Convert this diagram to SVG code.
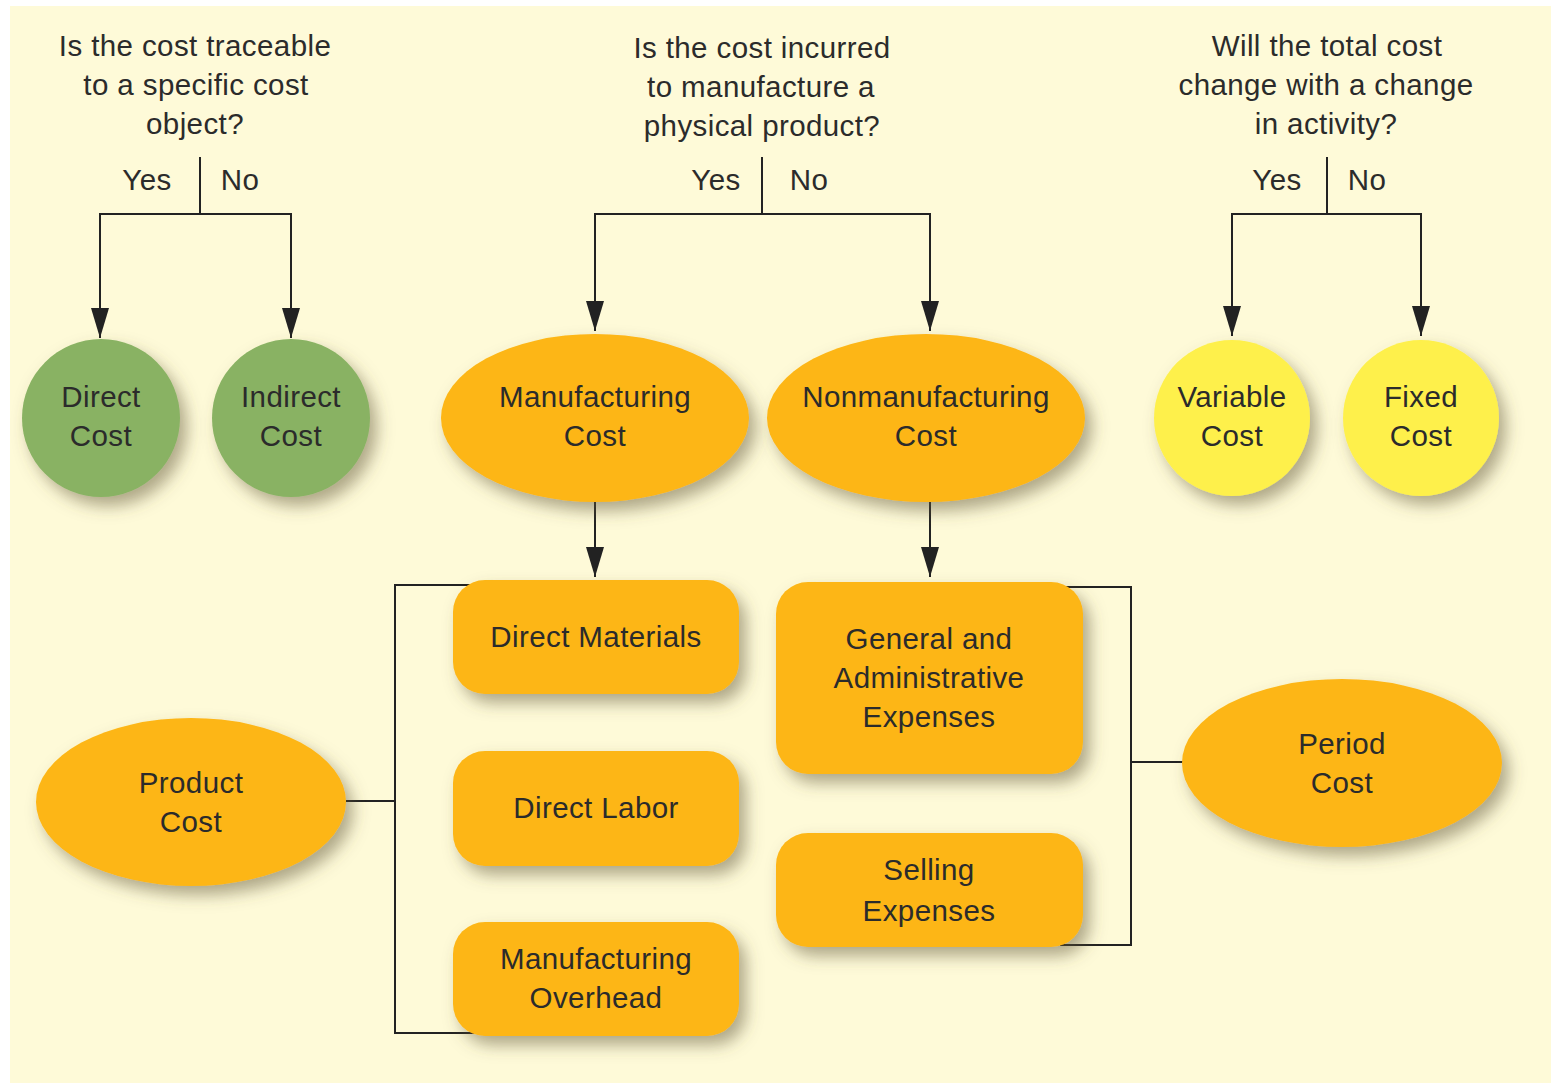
<svg xmlns="http://www.w3.org/2000/svg" width="1551" height="1086" viewBox="0 0 1551 1086">
<defs>
<style>
text{font-family:"Liberation Sans",Arial,sans-serif;font-size:29.5px;letter-spacing:0.4px;fill:#2b2b2b;text-anchor:middle}
.ln{fill:none;stroke:#222;stroke-width:2}
.green{fill:#89b263}
.orange{fill:#fdb616}
.yellow{fill:#fef04c}
</style>
<filter id="sh" x="-20%" y="-20%" width="150%" height="160%">
<feDropShadow dx="7" dy="9" stdDeviation="8" flood-color="#5e5636" flood-opacity="0.5"/>
</filter>
<marker id="ah" markerUnits="userSpaceOnUse" markerWidth="30" markerHeight="18" refX="30" refY="9" orient="auto">
<path d="M0,0 L30,9 L0,18 z" fill="#222"/>
</marker>
</defs>
<rect x="0" y="0" width="1551" height="1086" fill="#ffffff"/>
<rect x="10" y="6" width="1541" height="1077" fill="#fefad8"/>

<g id="questions">
<text x="195" y="56">Is the cost traceable</text>
<text x="196" y="95">to a specific cost</text>
<text x="195" y="134">object?</text>
<text x="762" y="58">Is the cost incurred</text>
<text x="761" y="97">to manufacture a</text>
<text x="762" y="136">physical product?</text>
<text x="1327" y="56">Will the total cost</text>
<text x="1326" y="95">change with a change</text>
<text x="1326" y="134">in activity?</text>
<text x="147" y="190">Yes</text>
<text x="240" y="190">No</text>
<text x="716" y="190">Yes</text>
<text x="809" y="190">No</text>
<text x="1277" y="190">Yes</text>
<text x="1367" y="190">No</text>
</g>

<g id="connectors">
<path class="ln" d="M200,157 V214"/>
<path class="ln" d="M200,214 H100 V338" marker-end="url(#ah)"/>
<path class="ln" d="M200,214 H291 V338" marker-end="url(#ah)"/>
<path class="ln" d="M762,157 V214"/>
<path class="ln" d="M762,214 H595 V331" marker-end="url(#ah)"/>
<path class="ln" d="M762,214 H930 V331" marker-end="url(#ah)"/>
<path class="ln" d="M1327,157 V214"/>
<path class="ln" d="M1327,214 H1232 V336" marker-end="url(#ah)"/>
<path class="ln" d="M1327,214 H1421 V336" marker-end="url(#ah)"/>
<path class="ln" d="M595,502 V577" marker-end="url(#ah)"/>
<path class="ln" d="M930,502 V577" marker-end="url(#ah)"/>
<path class="ln" d="M480,585 H395 V1033 H480"/>
<path class="ln" d="M346,801 H395"/>
<path class="ln" d="M1060,587 H1131 V945 H1060"/>
<path class="ln" d="M1131,762 H1190"/>
</g>

<g id="direct-cost"><circle class="green" cx="101" cy="418" r="79" filter="url(#sh)"/><text x="101" y="407">Direct</text><text x="101" y="446">Cost</text></g>
<g id="indirect-cost"><circle class="green" cx="291" cy="418" r="79" filter="url(#sh)"/><text x="291" y="407">Indirect</text><text x="291" y="446">Cost</text></g>
<g id="manufacturing-cost"><ellipse class="orange" cx="595" cy="418" rx="154" ry="84" filter="url(#sh)"/><text x="595" y="407">Manufacturing</text><text x="595" y="446">Cost</text></g>
<g id="nonmanufacturing-cost"><ellipse class="orange" cx="926" cy="418" rx="159" ry="84" filter="url(#sh)"/><text x="926" y="407">Nonmanufacturing</text><text x="926" y="446">Cost</text></g>
<g id="variable-cost"><circle class="yellow" cx="1232" cy="418" r="78" filter="url(#sh)"/><text x="1232" y="407">Variable</text><text x="1232" y="446">Cost</text></g>
<g id="fixed-cost"><circle class="yellow" cx="1421" cy="418" r="78" filter="url(#sh)"/><text x="1421" y="407">Fixed</text><text x="1421" y="446">Cost</text></g>

<g id="direct-materials"><rect class="orange" x="453" y="580" width="286" height="114" rx="32" filter="url(#sh)"/><text x="596" y="647">Direct Materials</text></g>
<g id="direct-labor"><rect class="orange" x="453" y="751" width="286" height="115" rx="32" filter="url(#sh)"/><text x="596" y="818">Direct Labor</text></g>
<g id="manufacturing-overhead"><rect class="orange" x="453" y="922" width="286" height="114" rx="32" filter="url(#sh)"/><text x="596" y="969">Manufacturing</text><text x="596" y="1008">Overhead</text></g>
<g id="general-admin"><rect class="orange" x="776" y="582" width="307" height="192" rx="32" filter="url(#sh)"/><text x="929" y="649">General and</text><text x="929" y="688">Administrative</text><text x="929" y="727">Expenses</text></g>
<g id="selling-expenses"><rect class="orange" x="776" y="833" width="307" height="114" rx="32" filter="url(#sh)"/><text x="929" y="880">Selling</text><text x="929" y="921">Expenses</text></g>
<g id="product-cost"><ellipse class="orange" cx="191" cy="802" rx="155" ry="84" filter="url(#sh)"/><text x="191" y="793">Product</text><text x="191" y="832">Cost</text></g>
<g id="period-cost"><ellipse class="orange" cx="1342" cy="763" rx="160" ry="84" filter="url(#sh)"/><text x="1342" y="754">Period</text><text x="1342" y="793">Cost</text></g>
</svg>
